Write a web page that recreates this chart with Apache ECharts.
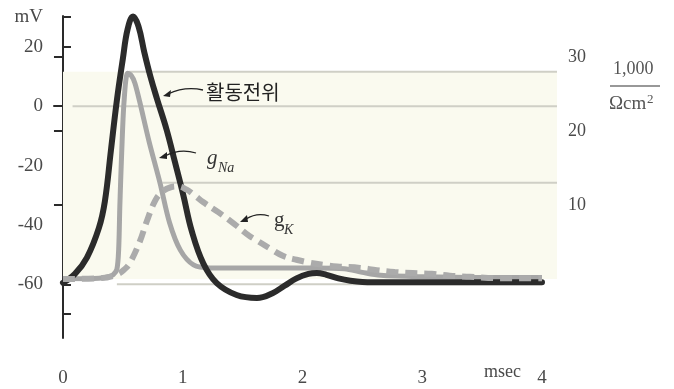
<!DOCTYPE html>
<html><head><meta charset="utf-8">
<script src="https://cdn.jsdelivr.net/npm/echarts@6/dist/echarts.min.js"></script>
<style>html,body{margin:0;padding:0;background:#fff}#c{width:674px;height:389px}</style>
</head><body><div id="c"></div>
<script>
// Action potential (mV) vs time (msec)
const timeAP = [0,0.1,0.2,0.3,0.35,0.4,0.45,0.5,0.54,0.585,0.63,0.68,0.73,0.785,0.866,0.936,1.005,1.075,1.172,1.284,1.45,1.62,1.75,1.85,1.95,2.05,2.12,2.2,2.3,2.4,2.5,2.7,3.0,3.5,4.0];
const vAP = [-59.5,-56.5,-51,-41,-32,-15,2,16,26,30.2,27,18,10,2.5,-8,-19,-30,-42,-53,-59.6,-63.6,-64.6,-63,-60.5,-58,-56.5,-56.2,-56.8,-58,-58.8,-59.2,-59.3,-59.3,-59.3,-59.3];
// Sodium conductance (1,000 / Ωcm²)
const timeNa = [0,0.15,0.3,0.38,0.42,0.45,0.465,0.475,0.49,0.51,0.54,0.57,0.6,0.64,0.72,0.81,0.89,0.98,1.09,1.23,1.5,1.8,2.1,2.35,2.5,2.65,3.0,3.5,4.0];
const gNa = [0,0.05,0.1,0.3,0.6,1.3,4,10,17,24,27.8,27.5,26.5,24,18.5,13,7.6,3.9,1.9,1.5,1.5,1.5,1.5,1.4,0.9,0.5,0.3,0.2,0.2];
// Potassium conductance (1,000 / Ωcm²)
const timeK = [0,0.3,0.45,0.52,0.56,0.64,0.7,0.77,0.83,0.9,0.96,1.03,1.1,1.17,1.3,1.44,1.55,1.62,1.73,1.84,1.95,2.06,2.18,2.29,2.48,2.62,2.77,2.92,3.08,3.23,3.4,3.55,3.71,3.86,4.0];
const gK = [0,0.1,0.6,1.4,2.2,5.0,7.8,10.6,11.8,12.4,12.5,12.1,11.3,10.4,9.0,7.3,5.9,5.2,4.1,3.1,2.6,2.2,1.9,1.7,1.5,1.2,0.95,0.8,0.7,0.45,0.3,0.15,0.1,0.1,0.1];
// Axis ticks / labels
const xTicks = [0,1,2,3,4];
const mvTicks = [-70,-60,-50,-40,-30,-20,-10,0,10,20,30];
const mvLabels = [-60,-40,-20,0,20,30];
const gTicks = [10,20,30];
// Reference levels
const gNaPeakRef = 28.0;
const gKPeakRef = 13.0;
const zeroMv = 0;
const restMv = -60;

const serif = '"Liberation Serif","DejaVu Serif",serif';
const pair = (xs, ys) => xs.map((x, i) => [x, ys[i]]);
const refStyle = {color:'#cfcfc6', width:2};
const axisCol = '#2a2a2a';
const labelCol = '#4a4a4a';

function arrow(x1, y1, cx, cy, x2, y2, head) {
  return [
    {type:'bezierCurve', z:10, shape:{x1:x1, y1:y1, cpx1:cx, cpy1:cy, x2:x2, y2:y2}, style:{stroke:'#222', lineWidth:1.3, fill:null}},
    {type:'polygon', z:10, shape:{points:head}, style:{fill:'#222'}}
  ];
}

const chart = echarts.init(document.getElementById('c'), null, {renderer:'canvas'});
chart.setOption({
  animation:false,
  backgroundColor:'#ffffff',
  grid:[
    {left:54, right:132, top:16, bottom:51},
    {left:54, right:117, top:57, bottom:110}
  ],
  xAxis:[
    {gridIndex:0, type:'value', min:-0.075, max:4,
     axisLine:{show:true, lineStyle:{color:axisCol, width:2}},
     axisTick:{show:true, customValues:xTicks, length:12, lineStyle:{color:axisCol, width:2}},
     axisLabel:{customValues:xTicks, margin:31, fontFamily:serif, fontSize:19, color:labelCol},
     splitLine:{show:false}},
    {gridIndex:1, type:'value', min:-0.075, max:4.125, show:false}
  ],
  yAxis:[
    {gridIndex:0, type:'value', min:-78.1, max:30.4,
     axisLine:{show:true, lineStyle:{color:axisCol, width:2}},
     axisTick:{show:true, inside:true, customValues:mvTicks, length:8, lineStyle:{color:axisCol, width:2}},
     axisLabel:{customValues:mvLabels, formatter:v => v === 30 ? 'mV' : String(v), margin:11, fontFamily:serif, fontSize:19, color:labelCol},
     splitLine:{show:false}},
    {gridIndex:1, type:'value', position:'right', min:0, max:30,
     axisLine:{show:true, lineStyle:{color:axisCol, width:2}},
     axisTick:{show:true, inside:true, customValues:gTicks, length:9, lineStyle:{color:axisCol, width:2}},
     axisLabel:{customValues:gTicks, margin:11, fontFamily:serif, fontSize:18, color:labelCol},
     splitLine:{show:false}},
    {gridIndex:1, type:'value', min:-58.22, max:16.58, show:false}
  ],
  series:[
    {type:'line', xAxisIndex:1, yAxisIndex:1, data:[[0.55, gNaPeakRef],[4.125, gNaPeakRef]], symbol:'none', lineStyle:refStyle, silent:true, z:1,
     markArea:{silent:true, itemStyle:{color:'#fafaef'}, data:[[{coord:[0,0]},{coord:[4.125,gNaPeakRef]}]]}},
    {type:'line', xAxisIndex:1, yAxisIndex:1, data:[[0.83, gKPeakRef],[4.125, gKPeakRef]], symbol:'none', lineStyle:refStyle, silent:true, z:1},
    {type:'line', xAxisIndex:1, yAxisIndex:2, data:[[0.08, zeroMv],[4.125, zeroMv]], symbol:'none', lineStyle:refStyle, silent:true, z:1},
    {type:'line', xAxisIndex:0, yAxisIndex:0, data:[[0.45, restMv],[4, restMv]], symbol:'none', lineStyle:refStyle, silent:true, z:1},
    {name:'gNa', type:'line', xAxisIndex:1, yAxisIndex:1, data:pair(timeNa, gNa), symbol:'none', smooth:0.3,
     lineStyle:{color:'#a6a6a6', width:5, join:'round'}, z:3},
    {name:'활동전위', type:'line', xAxisIndex:0, yAxisIndex:0, data:pair(timeAP, vAP), symbol:'none', smooth:0.4,
     lineStyle:{color:'#2b2b2b', width:6, cap:'round', join:'round'}, z:4},
    {name:'gK', type:'line', xAxisIndex:1, yAxisIndex:1, data:pair(timeK, gK), symbol:'none', smooth:0.4,
     lineStyle:{color:'#ababab', width:6, type:[12,7], cap:'butt'}, z:5}
  ],
  graphic:[
    {type:'text', left:206, top:82, z:10, style:{text:'활동전위', fontFamily:'"Noto Sans CJK KR"', fontSize:20, fill:'#222'}},
    ...arrow(203, 90, 185, 86, 168, 94, [[163,96],[171,90],[170,97]]),
    {type:'text', left:207, top:148, z:10, style:{text:'g', fontFamily:serif, fontStyle:'italic', fontSize:21, fill:'#333'}},
    {type:'text', left:218, top:161, z:10, style:{text:'Na', fontFamily:serif, fontStyle:'italic', fontSize:14, fill:'#333'}},
    ...arrow(196, 153, 180, 148, 165, 156, [[159,158],[167,152],[167,159]]),
    {type:'text', left:274, top:210, z:10, style:{text:'g', fontFamily:serif, fontSize:21, fill:'#333'}},
    {type:'text', left:284, top:223, z:10, style:{text:'K', fontFamily:serif, fontStyle:'italic', fontSize:14, fill:'#333'}},
    ...arrow(269, 216, 257, 212, 246, 219, [[240,222],[247,215],[248,222]]),
    {type:'text', left:484, top:363, z:10, style:{text:'msec', fontFamily:serif, fontSize:18, fill:labelCol}},
    {type:'text', left:613, top:60, z:10, style:{text:'1,000', fontFamily:serif, fontSize:18, fill:'#555'}},
    {type:'line', z:10, shape:{x1:610, y1:86, x2:660, y2:86}, style:{stroke:'#333', lineWidth:1.2}},
    {type:'text', left:609, top:95, z:10, style:{text:'Ωcm', fontFamily:serif, fontSize:19, fill:'#555'}},
    {type:'text', left:647, top:93, z:10, style:{text:'2', fontFamily:serif, fontSize:13, fill:'#555'}}
  ]
});
</script>
</body></html>
